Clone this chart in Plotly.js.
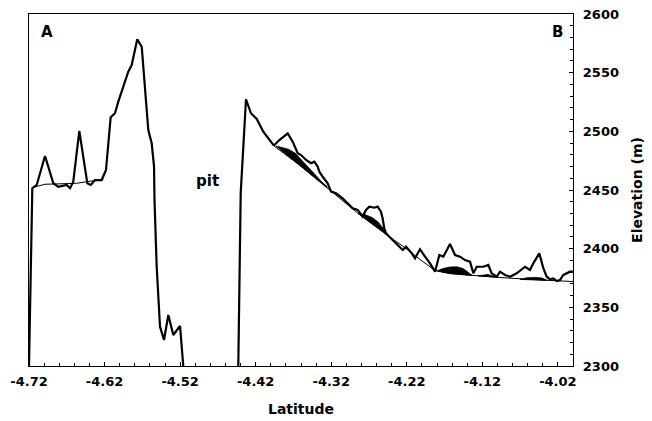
<!DOCTYPE html>
<html>
<head>
<meta charset="utf-8">
<script src="https://cdn.plot.ly/plotly-3.0.1.min.js"></script>
<style>html,body{margin:0;padding:0;background:#fff;}#chart{width:652px;height:421px;}</style>
</head>
<body>
<div id="chart"></div>
<script>
// Surface profile (thick line); null splits the two sides of the pit
var profileLat = [-4.7200, -4.7156, -4.7098, -4.6988, -4.6878, -4.6812, -4.6701, -4.6657, -4.6614, -4.6534,
  -4.6428, -4.6383, -4.6326, -4.6238, -4.6181, -4.6119, -4.6062, -4.6018, -4.5886, -4.5841,
  -4.5767, -4.5708, -4.5621, -4.5576, -4.5545, -4.5539, -4.5510, -4.5466, -4.5413, -4.5356,
  -4.5290, -4.5201, -4.5158, null,
  -4.4430, -4.4398, -4.4328, -4.4262, -4.4186, -4.4099, -4.3966, -4.3952, -4.3886, -4.3776,
  -4.3710, -4.3644, -4.3599, -4.3533, -4.3467, -4.3423, -4.3379, -4.3357, -4.3313, -4.3247,
  -4.3202, -4.3136, -4.3049, -4.2983, -4.2916, -4.2850, -4.2784, -4.2740, -4.2696, -4.2630,
  -4.2586, -4.2542, -4.2520, -4.2498, -4.2474, -4.2431, -4.2386, -4.2320, -4.2254, -4.2210,
  -4.2135, -4.2091, -4.2025, -4.1958, -4.1892, -4.1826, -4.1769, -4.1716, -4.1628, -4.1561,
  -4.1495, -4.1429, -4.1363, -4.1319, -4.1274, -4.1187, -4.1121, -4.1076, -4.1009, -4.0966,
  -4.0900, -4.0833, -4.0745, -4.0635, -4.0569, -4.0525, -4.0446, -4.0393, -4.0348, -4.0304,
  -4.0260, -4.0215, -4.0172, -4.0128, -4.0039, -4.0000];
var profileElev = [2300, 2451.5, 2454.3, 2479.0, 2455.7, 2452.8, 2454.3, 2451.5, 2457.1, 2500.3,
  2455.7, 2454.3, 2458.5, 2458.5, 2467.0, 2512.0, 2515.4, 2525.3, 2550.8, 2556.5,
  2578.4, 2572.1, 2501.1, 2489.8, 2469.9, 2441.5, 2384.6, 2333.5, 2322.2, 2343.5,
  2326.4, 2334.1, 2300, null,
  2300, 2447.4, 2527.3, 2515.4, 2510.5, 2499.7, 2488.4, 2488.4, 2492.6, 2498.3,
  2491.2, 2481.3, 2479.8, 2475.6, 2472.8, 2474.1, 2469.9, 2465.6, 2461.3, 2455.7,
  2448.6, 2447.2, 2442.9, 2438.7, 2434.4, 2433.0, 2427.2, 2433.0, 2435.8, 2434.9,
  2435.8, 2431.5, 2425.9, 2417.4, 2413.1, 2410.2, 2407.4, 2403.1, 2398.9, 2401.7,
  2396.1, 2391.8, 2399.5, 2393.2, 2387.5, 2380.4, 2394.6, 2393.2, 2404.0, 2394.6,
  2393.2, 2390.3, 2388.9, 2379.0, 2384.6, 2384.6, 2386.1, 2379.0, 2376.1, 2380.4,
  2377.6, 2376.1, 2379.0, 2384.6, 2381.8, 2387.5, 2396.1, 2383.3, 2376.1, 2373.9,
  2374.7, 2372.4, 2373.3, 2377.6, 2380.4, 2380.4];

// Reference surface (thin line), left rim and right slope
var baseLatLeft = [-4.7156, -4.7143, -4.6988, -4.6569, -4.6349, -4.6217];
var baseElevLeft = [2451.5, 2452.3, 2454.9, 2455.7, 2457.9, 2459.1];
var baseLatRight = [-4.3966, -4.3613, -4.3348, -4.3084, -4.2819, -4.2488, -4.2183, -4.2025, -4.1826,
  -4.1628, -4.1336, -4.0966, -4.0436, -4.0000];
var baseElevRight = [2487.9, 2470.9, 2456.8, 2442.9, 2428.7, 2412.9, 2398.9, 2390.8, 2381.4,
  2378.8, 2377.1, 2375.4, 2373.3, 2372.0];

// Filled (black) deposits between the reference surface and the upper boundary
var blob1Lat = [-4.3931, -4.3851, -4.3768, -4.3679, -4.3613, -4.3507, -4.3414, -4.3322, -4.3256,
  -4.3256, -4.3414, -4.3613, -4.3768, -4.3931];
var blob1Elev = [2487.5, 2486.2, 2484.8, 2481.5, 2476.8, 2469.6, 2462.8, 2456.8, 2453.0,
  2452.0, 2460.3, 2470.9, 2479.1, 2487.5];
var blob2Lat = [-4.2845, -4.2753, -4.2660, -4.2581, -4.2514, -4.2448,
  -4.2514, -4.2581, -4.2660, -4.2753, -4.2845];
var blob2Elev = [2430.1, 2429.0, 2426.6, 2422.8, 2417.4, 2411.1,
  2414.2, 2417.4, 2421.1, 2425.5, 2430.1];
var blob3Lat = [-4.1800, -4.1720, -4.1628, -4.1535, -4.1455, -4.1389, -4.1336,
  -4.1389, -4.1455, -4.1535, -4.1628, -4.1720, -4.1800];
var blob3Elev = [2381.1, 2383.1, 2384.4, 2384.5, 2383.1, 2380.1, 2377.3,
  2377.4, 2377.7, 2378.2, 2378.8, 2379.9, 2381.1];
var blob4Lat = [-4.1257, -4.1125, -4.1005, -4.1125, -4.1257];
var blob4Elev = [2376.8, 2378.0, 2375.6, 2376.2, 2376.8];
var blob5Lat = [-4.0701, -4.0608, -4.0502, -4.0410, -4.0344, -4.0410, -4.0502, -4.0608, -4.0701];
var blob5Elev = [2373.8, 2375.2, 2375.5, 2375.0, 2373.0, 2373.2, 2373.3, 2373.5, 2373.8];

var xTickVals = [-4.72, -4.62, -4.52, -4.42, -4.32, -4.22, -4.12, -4.02];
var xTickText = ['-4.72', '-4.62', '-4.52', '-4.42', '-4.32', '-4.22', '-4.12', '-4.02'];
var yTickVals = [2300, 2350, 2400, 2450, 2500, 2550, 2600];
var yTickText = ['2300', '2350', '2400', '2450', '2500', '2550', '2600'];

var FONT = 'DejaVu Sans, Verdana, sans-serif';
var traces = [];
function blob(x, y) {
  return {x: x, y: y, type: 'scatter', mode: 'lines', fill: 'toself', fillcolor: '#000',
    line: {color: '#000', width: 0.8}, hoverinfo: 'skip'};
}
traces.push({x: baseLatLeft, y: baseElevLeft, type: 'scatter', mode: 'lines', line: {color: '#000', width: 1}});
traces.push({x: baseLatRight, y: baseElevRight, type: 'scatter', mode: 'lines', line: {color: '#000', width: 1}});
traces.push(blob(blob1Lat, blob1Elev));
traces.push(blob(blob2Lat, blob2Elev));
traces.push(blob(blob3Lat, blob3Elev));
traces.push(blob(blob4Lat, blob4Elev));
traces.push(blob(blob5Lat, blob5Elev));
traces.push({x: profileLat, y: profileElev, type: 'scatter', mode: 'lines', connectgaps: false,
  line: {color: '#000', width: 2.2}});

var layout = {
  width: 652, height: 421,
  margin: {l: 29, r: 79, t: 14, b: 55, pad: 0},
  paper_bgcolor: '#fff', plot_bgcolor: '#fff',
  showlegend: false, hovermode: false,
  xaxis: {
    range: [-4.72, -4.00], showgrid: false, zeroline: false,
    showline: true, linecolor: '#000', linewidth: 1.2, mirror: true,
    ticks: 'inside', ticklen: 4, tickwidth: 1, tickcolor: '#000',
    tickmode: 'array', tickvals: xTickVals, ticktext: xTickText,
    ticklabelstandoff: 3,
    minor: {tickmode: 'linear', tick0: -4.72, dtick: 0.02, ticks: 'inside', ticklen: 3, tickcolor: '#000', showgrid: false},
    tickfont: {family: FONT, size: 13, color: '#000', weight: 'bold'},
    title: {text: 'Latitude', font: {family: FONT, size: 14, color: '#000', weight: 'bold'}, standoff: 16}
  },
  yaxis: {
    range: [2300, 2600], side: 'right', showgrid: false, zeroline: false,
    showline: true, linecolor: '#000', linewidth: 1.2, mirror: true,
    ticks: 'inside', ticklen: 4, tickwidth: 1, tickcolor: '#000',
    tickmode: 'array', tickvals: yTickVals, ticktext: yTickText,
    ticklabelstandoff: 6,
    minor: {tickmode: 'linear', tick0: 2300, dtick: 10, ticks: 'inside', ticklen: 3, tickcolor: '#000', showgrid: false},
    tickfont: {family: FONT, size: 13, color: '#000', weight: 'bold'},
    title: {text: 'Elevation (m)', font: {family: FONT, size: 14, color: '#000', weight: 'bold'}, standoff: 14}
  },
  annotations: [
    {x: -4.6966, y: 2585, xref: 'x', yref: 'y', text: 'A', showarrow: false,
      font: {family: FONT, size: 15, color: '#000', weight: 'bold'}},
    {x: -4.0207, y: 2585, xref: 'x', yref: 'y', text: 'B', showarrow: false,
      font: {family: FONT, size: 15, color: '#000', weight: 'bold'}},
    {x: -4.4844, y: 2458, xref: 'x', yref: 'y', text: 'pit', showarrow: false,
      font: {family: FONT, size: 15, color: '#000', weight: 'bold'}}
  ]
};
Plotly.newPlot('chart', traces, layout, {displayModeBar: false, staticPlot: true});
</script>
</body>
</html>
